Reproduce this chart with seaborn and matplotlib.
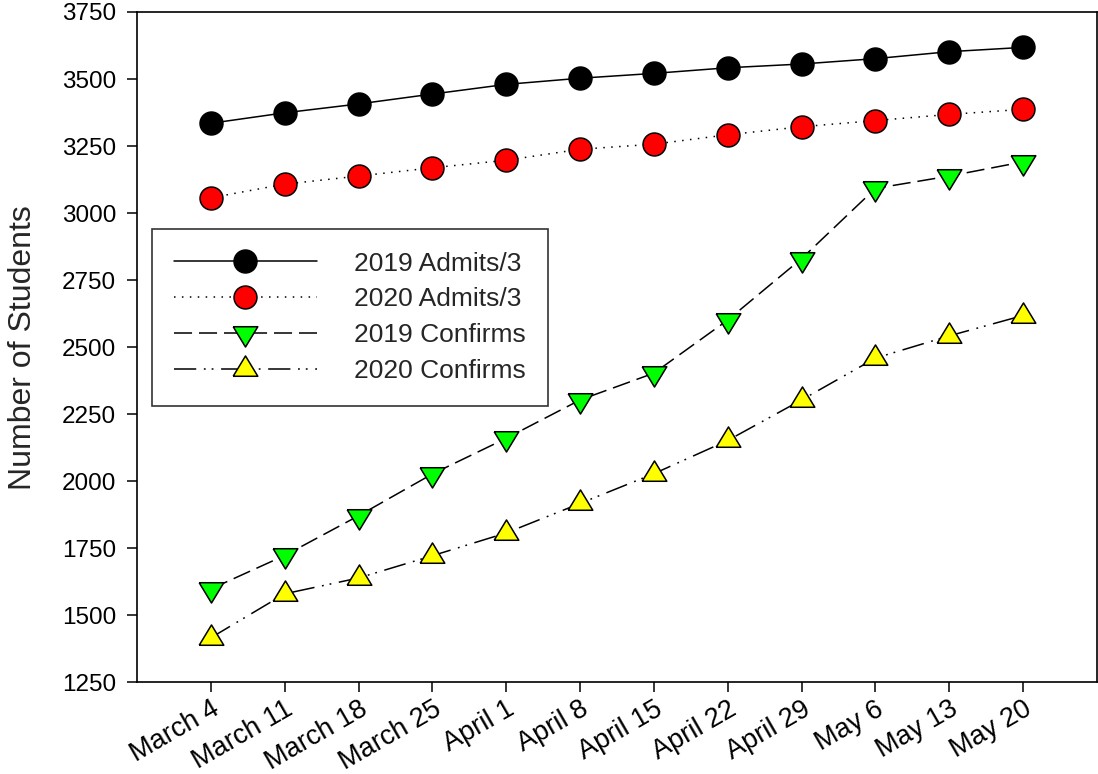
import numpy as np
import pandas as pd
import matplotlib
matplotlib.use('Agg')
import matplotlib.pyplot as plt
import matplotlib.transforms as mtransforms
import seaborn as sns

sns.set_style('white')
plt.rcParams['font.family'] = ['Liberation Sans', 'DejaVu Sans']
plt.rcParams['lines.scale_dashes'] = False

# weekly dates
dates = ['March 4', 'March 11', 'March 18', 'March 25', 'April 1', 'April 8',
         'April 15', 'April 22', 'April 29', 'May 6', 'May 13', 'May 20']

admits_2019 = [3335, 3374, 3407, 3444, 3480, 3503, 3521, 3542, 3556, 3576, 3602, 3618]
admits_2020 = [3057, 3108, 3138, 3169, 3197, 3238, 3257, 3292, 3322, 3345, 3368, 3387]
confirms_2019 = [1598, 1723, 1871, 2027, 2160, 2303, 2403, 2601, 2830, 3092, 3138, 3191]
confirms_2020 = [1416, 1580, 1639, 1722, 1807, 1917, 2028, 2152, 2303, 2459, 2542, 2618]

df = pd.DataFrame({'Date': dates,
                   '2019 Admits/3': admits_2019,
                   '2020 Admits/3': admits_2020,
                   '2019 Confirms': confirms_2019,
                   '2020 Confirms': confirms_2020})

# triangles centred on their centroid (like the original software does)
tri_up = [(-1, -0.55), (1, -0.55), (0, 1.1), (-1, -0.55)]
tri_down = [(-1, 0.55), (1, 0.55), (0, -1.1), (-1, 0.55)]

fig = plt.figure(figsize=(10.98, 7.74), dpi=100)
ax = fig.add_axes([0.1248, 0.1185, 0.8742, 0.866])

series = [
    ('2019 Admits/3', 'o', 'black', '-', 16.5),
    ('2020 Admits/3', 'o', 'red', (0, (1.1, 4.6)), 16.5),
    ('2019 Confirms', tri_down, '#00ff00', (0, (13, 5)), 19.5),
    ('2020 Confirms', tri_up, 'yellow', (0, (16, 5.5, 1.3, 4.3, 1.3, 5.5)), 19.5),
]
for name, mk, fc, ls, ms in series:
    sns.lineplot(data=df, x='Date', y=name, ax=ax, sort=False, label=name,
                 color='black', linewidth=1.1, linestyle=ls,
                 marker=mk, markersize=ms, markerfacecolor=fc,
                 markeredgecolor='black', markeredgewidth=1.1)

ax.set_xlim(-1, 12)
ax.set_ylim(1250, 3750)
ax.set_yticks(np.arange(1250, 3751, 250))
ax.set_xticks(range(len(dates)))
ax.set_xticklabels(dates, rotation=30, ha='right', va='top', rotation_mode='anchor',
                   fontsize=19.5)
# nudge the rotated date labels so their ends sit under the ticks
shift = mtransforms.ScaledTranslation(4 / 100, 0, fig.dpi_scale_trans)
for lab in ax.get_xticklabels():
    lab.set_transform(lab.get_transform() + shift)

for s in ax.spines.values():
    s.set_color('black')
    s.set_linewidth(1.2)
ax.tick_params(axis='both', which='both', direction='out', length=7, width=1.1,
               color='black', labelcolor='black')
ax.tick_params(axis='y', pad=8, labelsize=17.5)
ax.tick_params(axis='x', pad=3)
ax.xaxis.set_ticks_position('bottom')
ax.yaxis.set_ticks_position('left')

ax.set_xlabel('')
ax.set_ylabel('Number of Students', fontsize=23, labelpad=17)

leg = ax.legend(loc='upper left', bbox_to_anchor=(0.0153, 0.676), borderaxespad=0,
                fontsize=19, handlelength=5.4, handletextpad=1.4, labelspacing=0.45,
                borderpad=0.85, fancybox=False, frameon=True, numpoints=1)
leg.get_frame().set_edgecolor('black')
leg.get_frame().set_linewidth(1.2)

fig.savefig('out.png', dpi=100)
